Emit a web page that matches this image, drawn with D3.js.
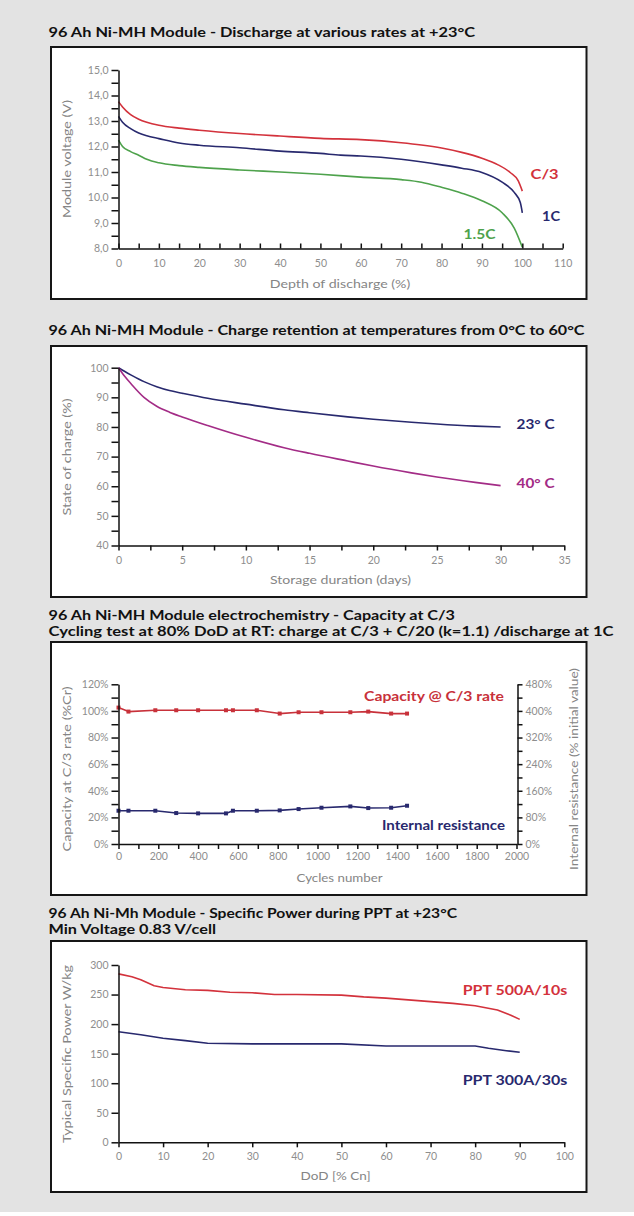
<!DOCTYPE html>
<html>
<head>
<meta charset="utf-8">
<script src="https://cdn.jsdelivr.net/npm/d3@7"></script>
<style>
  html, body { margin: 0; padding: 0; background: #ffffff; }
  svg { display: block; }
  text { font-family: Lato, "Open Sans", sans-serif; }
</style>
</head>
<body>
<svg id="chart" width="634" height="1216"></svg>
<script>
// ---- Discharge at various rates (+23°C) ----
const dodC3   = [0, 1, 3, 5, 7, 10, 15, 20, 30, 40, 50, 60, 70, 75, 80, 85, 90, 94, 97, 99, 100];
const voltC3  = [13.76, 13.55, 13.25, 13.07, 12.95, 12.83, 12.72, 12.64, 12.51, 12.41, 12.32, 12.27, 12.15, 12.06, 11.94, 11.77, 11.54, 11.28, 10.98, 10.65, 10.25];
const dod1C   = [0, 1, 3, 5, 7, 10, 15, 20, 30, 40, 50, 55, 60, 70, 80, 85, 90, 95, 98, 99.5, 100];
const volt1C  = [13.18, 12.95, 12.7, 12.53, 12.42, 12.31, 12.14, 12.05, 11.95, 11.82, 11.73, 11.66, 11.63, 11.5, 11.28, 11.15, 10.98, 10.6, 10.2, 9.8, 9.4];
const dod15C  = [0, 1, 3, 5, 7, 10, 15, 20, 30, 40, 50, 60, 70, 75, 80, 85, 90, 95, 98, 100];
const volt15C = [12.25, 12.0, 11.8, 11.66, 11.5, 11.36, 11.25, 11.18, 11.08, 11.0, 10.91, 10.8, 10.7, 10.6, 10.4, 10.17, 9.87, 9.4, 8.8, 8.05];
const voltTicks = [8, 9, 10, 11, 12, 13, 14, 15];
const dodTicks1 = [0, 10, 20, 30, 40, 50, 60, 70, 80, 90, 100, 110];

// ---- Charge retention ----
const daysRet  = [0, 0.5, 1, 2, 3, 4, 5, 7, 10, 13, 15, 18, 20, 23, 25, 28, 30];
const soc23    = [100, 98.7, 97.5, 95.3, 93.6, 92.3, 91.4, 89.7, 87.7, 85.8, 84.8, 83.4, 82.6, 81.6, 81.0, 80.3, 80.0];
const soc40    = [100, 97, 94.5, 90, 87, 85, 83.4, 80.5, 76.5, 73, 71.1, 68.5, 66.8, 64.5, 63.1, 61.3, 60.2];
const socTicks = [40, 50, 60, 70, 80, 90, 100];
const dayTicks = [0, 5, 10, 15, 20, 25, 30, 35];

// ---- Cycling test ----
const cycles     = [0, 50, 185, 290, 400, 540, 575, 695, 810, 905, 1020, 1165, 1255, 1370, 1450];
const capacity   = [102.5, 99.5, 100.5, 100.5, 100.5, 100.5, 100.5, 100.5, 98, 99, 99, 99, 99.5, 98, 98];
const resistance = [100, 100, 100, 93, 92, 92, 100, 100, 101, 105, 109, 113, 108, 109, 115];
const capTicks   = [0, 20, 40, 60, 80, 100, 120];
const resTicks   = [0, 80, 160, 240, 320, 400, 480];
const cycleTicks = [0, 200, 400, 600, 800, 1000, 1200, 1400, 1600, 1800, 2000];

// ---- Specific power during PPT ----
const dodP500   = [0, 3, 5, 8, 10, 15, 20, 25, 30, 35, 40, 50, 55, 60, 65, 70, 75, 80, 85, 88, 90];
const power500  = [285, 280, 275, 265, 262, 258, 257, 254, 253, 250, 250, 249, 246, 244, 241, 238, 235, 231, 224, 215, 208];
const dodP300   = [0, 5, 10, 15, 20, 30, 40, 50, 60, 70, 80, 83, 87, 90];
const power300  = [187, 182, 176, 172, 167.5, 166.5, 166.5, 166.5, 163, 163, 163, 159, 155, 152.5];
const powerTicks = [0, 50, 100, 150, 200, 250, 300];
const dodTicks4  = [0, 10, 20, 30, 40, 50, 60, 70, 80, 90, 100];

const RED = "#d3323c", NAVY = "#28296e", GREEN = "#4ea24c", MAGENTA = "#a32c86";
const TICK_GREY = "#8e8e8e", TITLE_GREY = "#858585";

const svg = d3.select("#chart");
svg.append("rect").attr("x", 0).attr("y", 0).attr("width", 634).attr("height", 1212).attr("fill", "#e3e3e3");

const BOX_L = 51, BOX_R = 586.5;
const AXIS_X = 118.5;

function fitText(sel, len) {
  return sel.attr("textLength", len).attr("lengthAdjust", "spacingAndGlyphs");
}

function title(lines) {
  lines.forEach(l => {
    fitText(svg.append("text")
      .attr("x", 48.5).attr("y", l.y)
      .attr("font-size", 12.5).attr("font-weight", 700).attr("fill", "#111")
      .text(l.text), l.w);
  });
}

function box(top, bottom) {
  svg.append("rect")
    .attr("x", BOX_L).attr("y", top)
    .attr("width", BOX_R - BOX_L).attr("height", bottom - top)
    .attr("fill", "#ffffff").attr("stroke", "#161616").attr("stroke-width", 2);
}

function styleAxis(g, keepDomain = true) {
  g.selectAll("path.domain").attr("stroke", "#111").attr("stroke-width", 1.5);
  if (!keepDomain) g.selectAll("path.domain").remove();
  g.selectAll(".tick line").attr("stroke", "#111").attr("stroke-width", 1.5);
  g.selectAll(".tick text").attr("fill", TICK_GREY).attr("font-size", 10.5)
    .attr("font-family", "Lato, 'Open Sans', sans-serif");
}

function axisX(x, yPos, values, minors, tickSize, labelOffset, fmt) {
  const pad = labelOffset - 3.7 - Math.max(tickSize, 0);
  const g = svg.append("g").attr("transform", `translate(0,${yPos})`)
    .call(d3.axisBottom(x).tickValues(values).tickSize(tickSize).tickSizeOuter(0)
      .tickPadding(pad).tickFormat(fmt || d3.format("d")));
  styleAxis(g);
  if (minors) {
    const m = svg.append("g").attr("transform", `translate(0,${yPos})`)
      .call(d3.axisBottom(x).tickValues(minors).tickSize(tickSize).tickFormat(""));
    styleAxis(m, false);
  }
}

function axisY(y, xPos, values, minors, fmt, right) {
  const ax = right ? d3.axisRight(y) : d3.axisLeft(y);
  const g = svg.append("g").attr("transform", `translate(${xPos},0)`)
    .call(ax.tickValues(values).tickSize(right ? 5 : 7).tickSizeOuter(0).tickPadding(3).tickFormat(fmt));
  styleAxis(g);
  if (minors) {
    const ax2 = right ? d3.axisRight(y) : d3.axisLeft(y);
    const m = svg.append("g").attr("transform", `translate(${xPos},0)`)
      .call(ax2.tickValues(minors).tickSize(right ? 5 : 7).tickFormat(""));
    styleAxis(m, false);
  }
}

function axisTitle(text, cx, cy, len, rotate) {
  const t = svg.append("text")
    .attr("text-anchor", "middle").attr("dominant-baseline", "central")
    .attr("font-size", 11.5).attr("fill", TITLE_GREY)
    .attr("transform", `translate(${cx},${cy})` + (rotate ? " rotate(-90)" : ""))
    .text(text);
  fitText(t, len);
}

function seriesLabel(text, cx, cy, len, color) {
  fitText(svg.append("text")
    .attr("x", cx).attr("y", cy)
    .attr("text-anchor", "middle").attr("dominant-baseline", "central")
    .attr("font-size", 14).attr("font-weight", 700).attr("fill", color)
    .text(text), len);
}

function drawLine(xs, ys, x, y, color, curve) {
  const pts = xs.map((d, i) => [d, ys[i]]);
  svg.append("path").datum(pts)
    .attr("fill", "none").attr("stroke", color).attr("stroke-width", 1.6)
    .attr("stroke-linejoin", "round")
    .attr("d", d3.line().x(d => x(d[0])).y(d => y(d[1])).curve(curve || d3.curveMonotoneX));
}

const range = (a, b, s) => d3.range(a, b + s / 2, s);
const comma1 = d => d3.format(".1f")(d).replace(".", ",");
const pct = d => d + "%";

// ================= Panel 1 =================
title([{ text: "96 Ah Ni-MH Module - Discharge at various rates at +23°C", y: 36.5, w: 426.5 }]);
box(47, 299);
{
  const x = d3.scaleLinear().domain([0, 110]).range([AXIS_X, 562.7]);
  const y = d3.scaleLinear().domain([8, 15]).range([248.5, 70]);
  drawLine(dodC3, voltC3, x, y, RED);
  drawLine(dod1C, volt1C, x, y, NAVY);
  drawLine(dod15C, volt15C, x, y, GREEN);
  axisY(y, AXIS_X, voltTicks, range(8.5, 14.5, 1), comma1);
  axisX(x, 248.5, dodTicks1, range(5, 105, 10), -5, 14.5);
  axisTitle("Depth of discharge (%)", 340, 283, 140.5, false);
  axisTitle("Module voltage (V)", 66.5, 159, 118, true);
  seriesLabel("C/3", 544.6, 173, 28, RED);
  seriesLabel("1C", 551, 215, 18, NAVY);
  seriesLabel("1.5C", 479.5, 233, 32, GREEN);
}

// ================= Panel 2 =================
title([{ text: "96 Ah Ni-MH Module - Charge retention at temperatures from 0°C to 60°C", y: 334.5, w: 536 }]);
box(346, 597);
{
  const x = d3.scaleLinear().domain([0, 35]).range([AXIS_X, 564.3]);
  const y = d3.scaleLinear().domain([40, 100]).range([545.5, 367.7]);
  drawLine(daysRet, soc23, x, y, NAVY);
  drawLine(daysRet, soc40, x, y, MAGENTA);
  axisY(y, AXIS_X, socTicks, range(45, 95, 10), d3.format("d"));
  axisX(x, 545.5, dayTicks, range(2.5, 32.5, 5), 5, 14.5);
  axisTitle("Storage duration (days)", 340.5, 579, 141, false);
  axisTitle("State of charge (%)", 66.5, 457, 117, true);
  seriesLabel("23° C", 535.6, 423, 38, NAVY);
  seriesLabel("40° C", 535.6, 482, 38, MAGENTA);
}

// ================= Panel 3 =================
title([
  { text: "96 Ah Ni-MH Module electrochemistry - Capacity at C/3", y: 619.5, w: 406.5 },
  { text: "Cycling test at 80% DoD at RT: charge at C/3 + C/20 (k=1.1) /discharge at 1C", y: 635.5, w: 565 }
]);
box(642, 895);
{
  const x = d3.scaleLinear().domain([0, 2000]).range([AXIS_X, 516.5]);
  const yL = d3.scaleLinear().domain([0, 120]).range([844, 684.3]);
  const yR = d3.scaleLinear().domain([0, 480]).range([844, 684.3]);
  drawLine(cycles, capacity, x, yL, "#c8313a", d3.curveLinear);
  drawLine(cycles, resistance, x, yR, NAVY, d3.curveLinear);
  const sym = d3.symbol().type(d3.symbolSquare).size(16);
  svg.append("g").selectAll("path").data(cycles).join("path")
    .attr("transform", (d, i) => `translate(${x(d)},${yL(capacity[i])})`)
    .attr("d", sym).attr("fill", "#c8313a");
  svg.append("g").selectAll("path").data(cycles).join("path")
    .attr("transform", (d, i) => `translate(${x(d)},${yR(resistance[i])})`)
    .attr("d", sym).attr("fill", NAVY);
  axisY(yL, AXIS_X, capTicks, range(10, 110, 20), pct);
  axisY(yR, 517.5, resTicks, range(40, 440, 80), pct, true);
  axisX(x, 844, cycleTicks, range(100, 1900, 200), 5, 12.7);
  axisTitle("Cycles number", 339.5, 877, 86, false);
  axisTitle("Capacity at C/3 rate (%Cr)", 66.5, 769, 165, true);
  axisTitle("Internal resistance (% initial value)", 573.5, 769, 202, true);
  seriesLabel("Capacity @ C/3 rate", 434, 695, 140, "#c8313a");
  seriesLabel("Internal resistance", 443.5, 824, 123, NAVY);
}

// ================= Panel 4 =================
title([
  { text: "96 Ah Ni-Mh Module - Specific Power during PPT at +23°C", y: 917.5, w: 408.5 },
  { text: "Min Voltage 0.83 V/cell", y: 933.5, w: 167.5 }
]);
box(941, 1192);
{
  const x = d3.scaleLinear().domain([0, 100]).range([AXIS_X, 564.3]);
  const y = d3.scaleLinear().domain([0, 300]).range([1142.3, 965]);
  drawLine(dodP500, power500, x, y, RED, d3.curveLinear);
  drawLine(dodP300, power300, x, y, NAVY, d3.curveLinear);
  axisY(y, AXIS_X, powerTicks, null, d3.format("d"));
  axisX(x, 1142.3, dodTicks4, null, 5, 14.4);
  axisTitle("DoD [% Cn]", 335.6, 1175, 70, false);
  axisTitle("Typical Specific Power W/kg", 66.5, 1054, 178, true);
  seriesLabel("PPT 500A/10s", 515, 989, 104.5, RED);
  seriesLabel("PPT 300A/30s", 515, 1079, 104.5, NAVY);
}
</script>
</body>
</html>
